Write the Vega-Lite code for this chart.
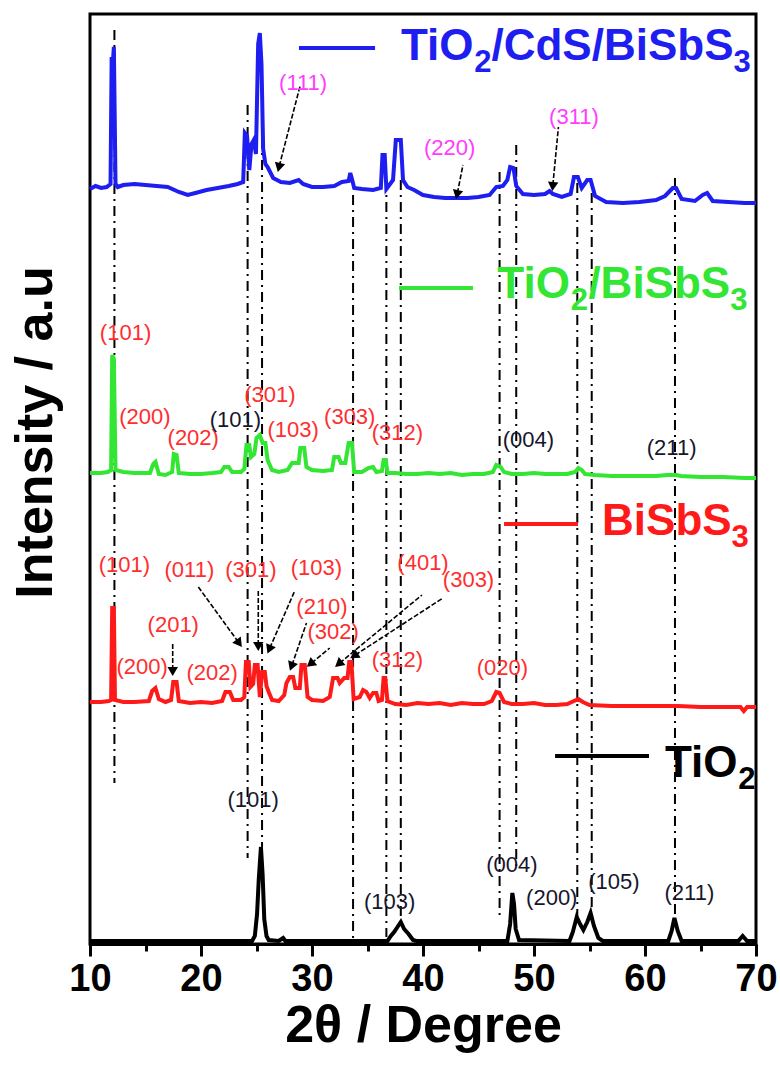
{
  "$schema": "https://vega.github.io/schema/vega-lite/v6.json",
  "width": 666,
  "height": 930,
  "autosize": {"type": "none"},
  "padding": {"left": 90, "top": 14, "right": 24, "bottom": 121},
  "background": "white",
  "config": {"view": {"stroke": "black", "strokeWidth": 3}, "font": "Liberation Sans"},
  "datasets": {
    "traces": [
      {"s":"TiO2/CdS/BiSbS3","x":10,"y":755},{"s":"TiO2/CdS/BiSbS3","x":10.5,"y":758},{"s":"TiO2/CdS/BiSbS3","x":11,"y":756},{"s":"TiO2/CdS/BiSbS3","x":11.5,"y":757},{"s":"TiO2/CdS/BiSbS3","x":11.85,"y":760},{"s":"TiO2/CdS/BiSbS3","x":11.95,"y":887},{"s":"TiO2/CdS/BiSbS3","x":12.05,"y":880},{"s":"TiO2/CdS/BiSbS3","x":12.15,"y":897},{"s":"TiO2/CdS/BiSbS3","x":12.3,"y":760},{"s":"TiO2/CdS/BiSbS3","x":12.5,"y":757},{"s":"TiO2/CdS/BiSbS3","x":13,"y":759},{"s":"TiO2/CdS/BiSbS3","x":14,"y":760},{"s":"TiO2/CdS/BiSbS3","x":15,"y":759},{"s":"TiO2/CdS/BiSbS3","x":16,"y":758},{"s":"TiO2/CdS/BiSbS3","x":17,"y":757},{"s":"TiO2/CdS/BiSbS3","x":18,"y":752},{"s":"TiO2/CdS/BiSbS3","x":18.8,"y":749},{"s":"TiO2/CdS/BiSbS3","x":19.5,"y":751},{"s":"TiO2/CdS/BiSbS3","x":20.5,"y":754},{"s":"TiO2/CdS/BiSbS3","x":21.5,"y":756},{"s":"TiO2/CdS/BiSbS3","x":22.5,"y":758},{"s":"TiO2/CdS/BiSbS3","x":23.3,"y":760},{"s":"TiO2/CdS/BiSbS3","x":23.8,"y":762},{"s":"TiO2/CdS/BiSbS3","x":23.95,"y":811},{"s":"TiO2/CdS/BiSbS3","x":24.15,"y":808},{"s":"TiO2/CdS/BiSbS3","x":24.35,"y":774},{"s":"TiO2/CdS/BiSbS3","x":24.55,"y":800},{"s":"TiO2/CdS/BiSbS3","x":24.75,"y":804},{"s":"TiO2/CdS/BiSbS3","x":24.95,"y":790},{"s":"TiO2/CdS/BiSbS3","x":25.15,"y":900},{"s":"TiO2/CdS/BiSbS3","x":25.3,"y":911},{"s":"TiO2/CdS/BiSbS3","x":25.45,"y":880},{"s":"TiO2/CdS/BiSbS3","x":25.6,"y":795},{"s":"TiO2/CdS/BiSbS3","x":25.8,"y":780},{"s":"TiO2/CdS/BiSbS3","x":26.0,"y":777},{"s":"TiO2/CdS/BiSbS3","x":26.5,"y":766},{"s":"TiO2/CdS/BiSbS3","x":27.2,"y":762},{"s":"TiO2/CdS/BiSbS3","x":28,"y":761},{"s":"TiO2/CdS/BiSbS3","x":28.8,"y":764},{"s":"TiO2/CdS/BiSbS3","x":29.2,"y":760},{"s":"TiO2/CdS/BiSbS3","x":30,"y":757},{"s":"TiO2/CdS/BiSbS3","x":31,"y":757},{"s":"TiO2/CdS/BiSbS3","x":32,"y":758},{"s":"TiO2/CdS/BiSbS3","x":32.7,"y":762},{"s":"TiO2/CdS/BiSbS3","x":33.3,"y":763},{"s":"TiO2/CdS/BiSbS3","x":33.45,"y":771},{"s":"TiO2/CdS/BiSbS3","x":33.6,"y":765},{"s":"TiO2/CdS/BiSbS3","x":33.8,"y":756},{"s":"TiO2/CdS/BiSbS3","x":34.5,"y":755},{"s":"TiO2/CdS/BiSbS3","x":35.5,"y":754},{"s":"TiO2/CdS/BiSbS3","x":36.2,"y":756},{"s":"TiO2/CdS/BiSbS3","x":36.35,"y":789},{"s":"TiO2/CdS/BiSbS3","x":36.55,"y":789},{"s":"TiO2/CdS/BiSbS3","x":36.7,"y":755},{"s":"TiO2/CdS/BiSbS3","x":37.3,"y":764},{"s":"TiO2/CdS/BiSbS3","x":37.55,"y":804},{"s":"TiO2/CdS/BiSbS3","x":38.0,"y":804},{"s":"TiO2/CdS/BiSbS3","x":38.2,"y":764},{"s":"TiO2/CdS/BiSbS3","x":38.6,"y":757},{"s":"TiO2/CdS/BiSbS3","x":39.2,"y":754},{"s":"TiO2/CdS/BiSbS3","x":40,"y":749},{"s":"TiO2/CdS/BiSbS3","x":41,"y":747},{"s":"TiO2/CdS/BiSbS3","x":42,"y":746},{"s":"TiO2/CdS/BiSbS3","x":43,"y":746},{"s":"TiO2/CdS/BiSbS3","x":44,"y":746},{"s":"TiO2/CdS/BiSbS3","x":45,"y":747},{"s":"TiO2/CdS/BiSbS3","x":46,"y":749},{"s":"TiO2/CdS/BiSbS3","x":46.6,"y":757},{"s":"TiO2/CdS/BiSbS3","x":47.2,"y":758},{"s":"TiO2/CdS/BiSbS3","x":47.6,"y":764},{"s":"TiO2/CdS/BiSbS3","x":47.85,"y":777},{"s":"TiO2/CdS/BiSbS3","x":48.15,"y":776},{"s":"TiO2/CdS/BiSbS3","x":48.4,"y":758},{"s":"TiO2/CdS/BiSbS3","x":49,"y":750},{"s":"TiO2/CdS/BiSbS3","x":50,"y":749},{"s":"TiO2/CdS/BiSbS3","x":51,"y":750},{"s":"TiO2/CdS/BiSbS3","x":51.4,"y":753},{"s":"TiO2/CdS/BiSbS3","x":51.7,"y":750},{"s":"TiO2/CdS/BiSbS3","x":52.5,"y":747},{"s":"TiO2/CdS/BiSbS3","x":53.3,"y":750},{"s":"TiO2/CdS/BiSbS3","x":53.6,"y":767},{"s":"TiO2/CdS/BiSbS3","x":53.95,"y":767},{"s":"TiO2/CdS/BiSbS3","x":54.3,"y":756},{"s":"TiO2/CdS/BiSbS3","x":54.8,"y":764},{"s":"TiO2/CdS/BiSbS3","x":55.1,"y":764},{"s":"TiO2/CdS/BiSbS3","x":55.5,"y":748},{"s":"TiO2/CdS/BiSbS3","x":56.5,"y":742},{"s":"TiO2/CdS/BiSbS3","x":58,"y":741},{"s":"TiO2/CdS/BiSbS3","x":59.5,"y":742},{"s":"TiO2/CdS/BiSbS3","x":61,"y":744},{"s":"TiO2/CdS/BiSbS3","x":61.8,"y":748},{"s":"TiO2/CdS/BiSbS3","x":62.5,"y":756},{"s":"TiO2/CdS/BiSbS3","x":62.8,"y":756},{"s":"TiO2/CdS/BiSbS3","x":63.3,"y":745},{"s":"TiO2/CdS/BiSbS3","x":64.5,"y":743},{"s":"TiO2/CdS/BiSbS3","x":65.2,"y":749},{"s":"TiO2/CdS/BiSbS3","x":65.6,"y":751},{"s":"TiO2/CdS/BiSbS3","x":66.1,"y":743},{"s":"TiO2/CdS/BiSbS3","x":67.5,"y":742},{"s":"TiO2/CdS/BiSbS3","x":69,"y":741},{"s":"TiO2/CdS/BiSbS3","x":70,"y":741},

      {"s":"TiO2/BiSbS3","x":10,"y":471},{"s":"TiO2/BiSbS3","x":11,"y":471},{"s":"TiO2/BiSbS3","x":11.6,"y":472},{"s":"TiO2/BiSbS3","x":11.9,"y":474},{"s":"TiO2/BiSbS3","x":12.0,"y":589},{"s":"TiO2/BiSbS3","x":12.15,"y":585},{"s":"TiO2/BiSbS3","x":12.3,"y":474},{"s":"TiO2/BiSbS3","x":13,"y":472},{"s":"TiO2/BiSbS3","x":14,"y":471},{"s":"TiO2/BiSbS3","x":15.4,"y":471},{"s":"TiO2/BiSbS3","x":15.7,"y":480},{"s":"TiO2/BiSbS3","x":15.9,"y":482},{"s":"TiO2/BiSbS3","x":16.2,"y":470},{"s":"TiO2/BiSbS3","x":16.8,"y":469},{"s":"TiO2/BiSbS3","x":17.4,"y":472},{"s":"TiO2/BiSbS3","x":17.55,"y":490},{"s":"TiO2/BiSbS3","x":17.8,"y":489},{"s":"TiO2/BiSbS3","x":18,"y":471},{"s":"TiO2/BiSbS3","x":19,"y":470},{"s":"TiO2/BiSbS3","x":20,"y":470},{"s":"TiO2/BiSbS3","x":21,"y":471},{"s":"TiO2/BiSbS3","x":21.8,"y":472},{"s":"TiO2/BiSbS3","x":22.1,"y":477},{"s":"TiO2/BiSbS3","x":22.5,"y":477},{"s":"TiO2/BiSbS3","x":22.8,"y":472},{"s":"TiO2/BiSbS3","x":23.6,"y":472},{"s":"TiO2/BiSbS3","x":23.9,"y":475},{"s":"TiO2/BiSbS3","x":24.1,"y":499},{"s":"TiO2/BiSbS3","x":24.35,"y":499},{"s":"TiO2/BiSbS3","x":24.5,"y":487},{"s":"TiO2/BiSbS3","x":24.8,"y":490},{"s":"TiO2/BiSbS3","x":25.0,"y":506},{"s":"TiO2/BiSbS3","x":25.3,"y":509},{"s":"TiO2/BiSbS3","x":25.55,"y":501},{"s":"TiO2/BiSbS3","x":25.8,"y":501},{"s":"TiO2/BiSbS3","x":26.0,"y":484},{"s":"TiO2/BiSbS3","x":26.4,"y":474},{"s":"TiO2/BiSbS3","x":27,"y":472},{"s":"TiO2/BiSbS3","x":27.8,"y":474},{"s":"TiO2/BiSbS3","x":28.2,"y":481},{"s":"TiO2/BiSbS3","x":28.8,"y":481},{"s":"TiO2/BiSbS3","x":28.95,"y":496},{"s":"TiO2/BiSbS3","x":29.3,"y":496},{"s":"TiO2/BiSbS3","x":29.5,"y":477},{"s":"TiO2/BiSbS3","x":30,"y":474},{"s":"TiO2/BiSbS3","x":31,"y":473},{"s":"TiO2/BiSbS3","x":31.8,"y":474},{"s":"TiO2/BiSbS3","x":32.0,"y":487},{"s":"TiO2/BiSbS3","x":32.4,"y":487},{"s":"TiO2/BiSbS3","x":32.6,"y":481},{"s":"TiO2/BiSbS3","x":33.0,"y":481},{"s":"TiO2/BiSbS3","x":33.3,"y":501},{"s":"TiO2/BiSbS3","x":33.6,"y":501},{"s":"TiO2/BiSbS3","x":33.8,"y":472},{"s":"TiO2/BiSbS3","x":34.5,"y":472},{"s":"TiO2/BiSbS3","x":35.1,"y":476},{"s":"TiO2/BiSbS3","x":35.5,"y":477},{"s":"TiO2/BiSbS3","x":35.8,"y":472},{"s":"TiO2/BiSbS3","x":36.3,"y":473},{"s":"TiO2/BiSbS3","x":36.45,"y":484},{"s":"TiO2/BiSbS3","x":36.65,"y":484},{"s":"TiO2/BiSbS3","x":36.8,"y":471},{"s":"TiO2/BiSbS3","x":37.5,"y":471},{"s":"TiO2/BiSbS3","x":38.5,"y":470},{"s":"TiO2/BiSbS3","x":39.5,"y":470},{"s":"TiO2/BiSbS3","x":40.5,"y":471},{"s":"TiO2/BiSbS3","x":41.5,"y":470},{"s":"TiO2/BiSbS3","x":42.5,"y":471},{"s":"TiO2/BiSbS3","x":43.5,"y":469},{"s":"TiO2/BiSbS3","x":44.5,"y":470},{"s":"TiO2/BiSbS3","x":45.5,"y":470},{"s":"TiO2/BiSbS3","x":46.3,"y":472},{"s":"TiO2/BiSbS3","x":46.6,"y":479},{"s":"TiO2/BiSbS3","x":47.0,"y":477},{"s":"TiO2/BiSbS3","x":47.3,"y":472},{"s":"TiO2/BiSbS3","x":48,"y":470},{"s":"TiO2/BiSbS3","x":49,"y":470},{"s":"TiO2/BiSbS3","x":50,"y":471},{"s":"TiO2/BiSbS3","x":51,"y":470},{"s":"TiO2/BiSbS3","x":52,"y":470},{"s":"TiO2/BiSbS3","x":53,"y":470},{"s":"TiO2/BiSbS3","x":53.7,"y":472},{"s":"TiO2/BiSbS3","x":54.0,"y":476},{"s":"TiO2/BiSbS3","x":54.3,"y":474},{"s":"TiO2/BiSbS3","x":54.6,"y":470},{"s":"TiO2/BiSbS3","x":55.5,"y":469},{"s":"TiO2/BiSbS3","x":57,"y":468},{"s":"TiO2/BiSbS3","x":59,"y":468},{"s":"TiO2/BiSbS3","x":61,"y":468},{"s":"TiO2/BiSbS3","x":62,"y":469},{"s":"TiO2/BiSbS3","x":62.8,"y":469},{"s":"TiO2/BiSbS3","x":63.2,"y":468},{"s":"TiO2/BiSbS3","x":65,"y":467},{"s":"TiO2/BiSbS3","x":67,"y":467},{"s":"TiO2/BiSbS3","x":69,"y":466},{"s":"TiO2/BiSbS3","x":70,"y":466},

      {"s":"BiSbS3","x":10,"y":242},{"s":"BiSbS3","x":11,"y":242},{"s":"BiSbS3","x":11.7,"y":243},{"s":"BiSbS3","x":11.9,"y":244},{"s":"BiSbS3","x":12.0,"y":336},{"s":"BiSbS3","x":12.15,"y":336},{"s":"BiSbS3","x":12.25,"y":244},{"s":"BiSbS3","x":13,"y":242},{"s":"BiSbS3","x":14,"y":242},{"s":"BiSbS3","x":15.3,"y":243},{"s":"BiSbS3","x":15.6,"y":253},{"s":"BiSbS3","x":15.9,"y":256},{"s":"BiSbS3","x":16.2,"y":245},{"s":"BiSbS3","x":16.8,"y":242},{"s":"BiSbS3","x":17.3,"y":244},{"s":"BiSbS3","x":17.5,"y":262},{"s":"BiSbS3","x":17.8,"y":262},{"s":"BiSbS3","x":18,"y":243},{"s":"BiSbS3","x":19,"y":241},{"s":"BiSbS3","x":20,"y":242},{"s":"BiSbS3","x":21,"y":241},{"s":"BiSbS3","x":21.9,"y":243},{"s":"BiSbS3","x":22.2,"y":252},{"s":"BiSbS3","x":22.6,"y":252},{"s":"BiSbS3","x":22.9,"y":244},{"s":"BiSbS3","x":23.6,"y":244},{"s":"BiSbS3","x":23.9,"y":247},{"s":"BiSbS3","x":24.05,"y":282},{"s":"BiSbS3","x":24.3,"y":282},{"s":"BiSbS3","x":24.45,"y":257},{"s":"BiSbS3","x":24.7,"y":260},{"s":"BiSbS3","x":24.85,"y":279},{"s":"BiSbS3","x":25.1,"y":279},{"s":"BiSbS3","x":25.3,"y":247},{"s":"BiSbS3","x":25.5,"y":272},{"s":"BiSbS3","x":25.75,"y":272},{"s":"BiSbS3","x":25.9,"y":258},{"s":"BiSbS3","x":26.1,"y":252},{"s":"BiSbS3","x":26.4,"y":244},{"s":"BiSbS3","x":27,"y":243},{"s":"BiSbS3","x":27.5,"y":249},{"s":"BiSbS3","x":27.7,"y":261},{"s":"BiSbS3","x":28.0,"y":267},{"s":"BiSbS3","x":28.3,"y":267},{"s":"BiSbS3","x":28.5,"y":256},{"s":"BiSbS3","x":28.9,"y":256},{"s":"BiSbS3","x":29.05,"y":279},{"s":"BiSbS3","x":29.35,"y":279},{"s":"BiSbS3","x":29.6,"y":247},{"s":"BiSbS3","x":30,"y":244},{"s":"BiSbS3","x":31,"y":243},{"s":"BiSbS3","x":31.6,"y":247},{"s":"BiSbS3","x":31.9,"y":266},{"s":"BiSbS3","x":32.3,"y":266},{"s":"BiSbS3","x":32.5,"y":261},{"s":"BiSbS3","x":32.9,"y":266},{"s":"BiSbS3","x":33.2,"y":266},{"s":"BiSbS3","x":33.35,"y":282},{"s":"BiSbS3","x":33.55,"y":282},{"s":"BiSbS3","x":33.75,"y":245},{"s":"BiSbS3","x":34.3,"y":247},{"s":"BiSbS3","x":34.6,"y":254},{"s":"BiSbS3","x":34.9,"y":252},{"s":"BiSbS3","x":35.2,"y":246},{"s":"BiSbS3","x":35.5,"y":251},{"s":"BiSbS3","x":35.8,"y":251},{"s":"BiSbS3","x":36.0,"y":243},{"s":"BiSbS3","x":36.3,"y":244},{"s":"BiSbS3","x":36.45,"y":266},{"s":"BiSbS3","x":36.6,"y":266},{"s":"BiSbS3","x":36.8,"y":243},{"s":"BiSbS3","x":37.5,"y":240},{"s":"BiSbS3","x":38.5,"y":239},{"s":"BiSbS3","x":39.5,"y":241},{"s":"BiSbS3","x":40.5,"y":240},{"s":"BiSbS3","x":41.5,"y":241},{"s":"BiSbS3","x":42.5,"y":239},{"s":"BiSbS3","x":43.5,"y":241},{"s":"BiSbS3","x":44.5,"y":240},{"s":"BiSbS3","x":45.5,"y":240},{"s":"BiSbS3","x":46.2,"y":243},{"s":"BiSbS3","x":46.6,"y":252},{"s":"BiSbS3","x":46.9,"y":251},{"s":"BiSbS3","x":47.3,"y":242},{"s":"BiSbS3","x":48,"y":240},{"s":"BiSbS3","x":49,"y":240},{"s":"BiSbS3","x":50,"y":241},{"s":"BiSbS3","x":51,"y":239},{"s":"BiSbS3","x":52,"y":239},{"s":"BiSbS3","x":53,"y":240},{"s":"BiSbS3","x":53.6,"y":243},{"s":"BiSbS3","x":54.0,"y":245},{"s":"BiSbS3","x":54.4,"y":242},{"s":"BiSbS3","x":55,"y":239},{"s":"BiSbS3","x":57,"y":238},{"s":"BiSbS3","x":59,"y":238},{"s":"BiSbS3","x":61,"y":238},{"s":"BiSbS3","x":63,"y":238},{"s":"BiSbS3","x":65,"y":237},{"s":"BiSbS3","x":67,"y":237},{"s":"BiSbS3","x":68.6,"y":237},{"s":"BiSbS3","x":68.9,"y":233},{"s":"BiSbS3","x":69.2,"y":237},{"s":"BiSbS3","x":70,"y":237},

      {"s":"TiO2","x":10,"y":3},{"s":"TiO2","x":24.6,"y":3},{"s":"TiO2","x":24.85,"y":8},{"s":"TiO2","x":25.05,"y":30},{"s":"TiO2","x":25.2,"y":64},{"s":"TiO2","x":25.4,"y":97},{"s":"TiO2","x":25.55,"y":70},{"s":"TiO2","x":25.7,"y":25},{"s":"TiO2","x":25.9,"y":8},{"s":"TiO2","x":26.1,"y":4},{"s":"TiO2","x":27.0,"y":3},{"s":"TiO2","x":27.4,"y":6},{"s":"TiO2","x":27.6,"y":3},{"s":"TiO2","x":36.8,"y":3},{"s":"TiO2","x":37.1,"y":8},{"s":"TiO2","x":37.4,"y":12},{"s":"TiO2","x":37.7,"y":17},{"s":"TiO2","x":38.0,"y":22},{"s":"TiO2","x":38.3,"y":15},{"s":"TiO2","x":38.7,"y":10},{"s":"TiO2","x":39.1,"y":4},{"s":"TiO2","x":39.4,"y":3},{"s":"TiO2","x":47.6,"y":3},{"s":"TiO2","x":47.85,"y":20},{"s":"TiO2","x":48.05,"y":51},{"s":"TiO2","x":48.2,"y":40},{"s":"TiO2","x":48.35,"y":15},{"s":"TiO2","x":48.65,"y":4},{"s":"TiO2","x":53.2,"y":3},{"s":"TiO2","x":53.5,"y":12},{"s":"TiO2","x":53.85,"y":27},{"s":"TiO2","x":54.15,"y":20},{"s":"TiO2","x":54.45,"y":14},{"s":"TiO2","x":54.8,"y":22},{"s":"TiO2","x":55.1,"y":31},{"s":"TiO2","x":55.4,"y":18},{"s":"TiO2","x":55.8,"y":6},{"s":"TiO2","x":56.2,"y":3},{"s":"TiO2","x":62.1,"y":3},{"s":"TiO2","x":62.4,"y":13},{"s":"TiO2","x":62.65,"y":26},{"s":"TiO2","x":62.95,"y":13},{"s":"TiO2","x":63.3,"y":3},{"s":"TiO2","x":68.4,"y":3},{"s":"TiO2","x":68.8,"y":8},{"s":"TiO2","x":69.2,"y":3},{"s":"TiO2","x":70,"y":3}
    ],
    "refs": [
      {"x":12.2,"y":914,"ye":161},{"x":24.2,"y":839,"ye":86},{"x":25.5,"y":806,"ye":97},{"x":33.7,"y":749,"ye":1},{"x":36.7,"y":764,"ye":7},{"x":38.0,"y":764,"ye":27},{"x":46.9,"y":772,"ye":24},{"x":48.4,"y":799,"ye":74},{"x":53.9,"y":761,"ye":27},{"x":55.2,"y":751,"ye":34},{"x":62.7,"y":766,"ye":27}
    ],
    "keyLines": [
      {"s":"TiO2/CdS/BiSbS3","x":28.83,"xe":35.68,"y":896},
      {"s":"TiO2/BiSbS3","x":37.84,"xe":44.5,"y":656},
      {"s":"BiSbS3","x":47.3,"xe":53.96,"y":420},
      {"s":"TiO2","x":51.9,"xe":60.36,"y":188}
    ],
    "keyTexts": [
      {"s":"TiO2/CdS/BiSbS3","label":"TiO","x":38.02,"y":884},
      {"s":"TiO2/CdS/BiSbS3","label":"/CdS/BiSbS","x":46.17,"y":884},
      {"s":"TiO2/BiSbS3","label":"TiO","x":46.7,"y":646},
      {"s":"TiO2/BiSbS3","label":"/BiSbS","x":54.9,"y":646},
      {"s":"BiSbS3","label":"BiSbS","x":56.13,"y":409},
      {"s":"TiO2","label":"TiO","x":61.8,"y":167}
    ],
    "keySubs": [
      {"s":"TiO2/CdS/BiSbS3","label":"2","x":44.62,"y":872},
      {"s":"TiO2/CdS/BiSbS3","label":"3","x":67.98,"y":872},
      {"s":"TiO2/BiSbS3","label":"2","x":53.3,"y":634},
      {"s":"TiO2/BiSbS3","label":"3","x":67.68,"y":634},
      {"s":"BiSbS3","label":"3","x":67.8,"y":397},
      {"s":"TiO2","label":"2","x":68.41,"y":155}
    ],
    "peaks": [
      {"hkl":"(111)","phase":"CdS","x":29.2,"y":861},
      {"hkl":"(220)","phase":"CdS","x":42.4,"y":796},
      {"hkl":"(311)","phase":"CdS","x":53.6,"y":827},
      {"hkl":"(101)","phase":"BiSbS3","x":13.2,"y":611},
      {"hkl":"(200)","phase":"BiSbS3","x":14.95,"y":527},
      {"hkl":"(202)","phase":"BiSbS3","x":19.3,"y":506},
      {"hkl":"(101)","phase":"TiO2","x":23.1,"y":524},
      {"hkl":"(301)","phase":"BiSbS3","x":26.2,"y":549},
      {"hkl":"(103)","phase":"BiSbS3","x":28.3,"y":514},
      {"hkl":"(303)","phase":"BiSbS3","x":33.4,"y":527},
      {"hkl":"(312)","phase":"BiSbS3","x":37.7,"y":511},
      {"hkl":"(004)","phase":"TiO2","x":49.5,"y":504},
      {"hkl":"(211)","phase":"TiO2","x":62.4,"y":496},
      {"hkl":"(101)","phase":"BiSbS3","x":13.1,"y":379},
      {"hkl":"(011)","phase":"BiSbS3","x":18.95,"y":374},
      {"hkl":"(301)","phase":"BiSbS3","x":24.5,"y":374},
      {"hkl":"(103)","phase":"BiSbS3","x":30.4,"y":376},
      {"hkl":"(210)","phase":"BiSbS3","x":30.9,"y":337},
      {"hkl":"(201)","phase":"BiSbS3","x":17.5,"y":319},
      {"hkl":"(200)","phase":"BiSbS3","x":14.7,"y":277},
      {"hkl":"(202)","phase":"BiSbS3","x":21.0,"y":271},
      {"hkl":"(302)","phase":"BiSbS3","x":31.9,"y":312},
      {"hkl":"(401)","phase":"BiSbS3","x":40.0,"y":381},
      {"hkl":"(303)","phase":"BiSbS3","x":44.1,"y":364},
      {"hkl":"(312)","phase":"BiSbS3","x":37.7,"y":284},
      {"hkl":"(020)","phase":"BiSbS3","x":47.15,"y":276},
      {"hkl":"(101)","phase":"TiO2","x":24.7,"y":144},
      {"hkl":"(103)","phase":"TiO2","x":37.0,"y":42},
      {"hkl":"(004)","phase":"TiO2","x":48.0,"y":79},
      {"hkl":"(200)","phase":"TiO2","x":51.6,"y":46},
      {"hkl":"(105)","phase":"TiO2","x":57.2,"y":62},
      {"hkl":"(211)","phase":"TiO2","x":64.0,"y":51}
    ],
    "arrows": [
      {"hkl":"(111)","x":27.05,"y":778,"xe":28.95,"ye":859,"ang":194},
      {"hkl":"(220)","x":43.1,"y":751,"xe":43.6,"ye":779,"ang":192},
      {"hkl":"(311)","x":51.7,"y":759,"xe":52.2,"ye":817,"ang":185},
      {"hkl":"(201)","x":17.45,"y":274,"xe":17.45,"ye":302,"ang":180},
      {"hkl":"(011)","x":23.36,"y":302,"xe":19.76,"ye":357,"ang":144},
      {"hkl":"(301)","x":25.16,"y":299,"xe":25.16,"ye":354,"ang":180},
      {"hkl":"(103)","x":26.2,"y":296,"xe":28.4,"ye":352,"ang":203},
      {"hkl":"(210)","x":28.2,"y":279,"xe":29.5,"ye":321,"ang":200},
      {"hkl":"(302)","x":29.96,"y":281,"xe":31.6,"ye":296,"ang":231},
      {"hkl":"(401)","x":32.5,"y":281,"xe":39.9,"ye":349,"ang":230},
      {"hkl":"(303)","x":33.9,"y":289,"xe":41.8,"ye":346,"ang":237}
    ]
  },
  "encoding": {
    "x": {
      "field": "x", "type": "quantitative",
      "scale": {"domain": [10, 70], "nice": false, "zero": false},
      "axis": {
        "title": "2θ / Degree",
        "values": [10, 15, 20, 25, 30, 35, 40, 45, 50, 55, 60, 65, 70],
        "labelExpr": "datum.value % 10 === 0 ? datum.label : ''",
        "format": "d",
        "tickSize": {"condition": {"test": "datum.value % 10 === 0", "value": 12}, "value": 7},
        "tickWidth": 3, "tickColor": "black",
        "domainColor": "black", "domainWidth": 3,
        "grid": false,
        "labelFont": "Liberation Sans", "labelFontSize": 38, "labelFontWeight": "bold", "labelColor": "black",
        "labelPadding": 4, "labelFlush": false, "labelOverlap": false,
        "titleFont": "Liberation Sans", "titleFontSize": 52, "titleFontWeight": "bold", "titleColor": "black",
        "titlePadding": 2
      }
    },
    "y": {
      "field": "y", "type": "quantitative",
      "scale": {"domain": [0, 930], "nice": false, "zero": false},
      "axis": {
        "title": "Intensity / a.u",
        "labels": false, "ticks": false, "domain": false, "grid": false,
        "titleFont": "Liberation Sans", "titleFontSize": 52, "titleFontWeight": "bold", "titleColor": "black",
        "titleAngle": -90, "titleX": -55, "titleY": 418, "titleAlign": "center", "titleBaseline": "middle"
      }
    }
  },
  "layer": [
    {
      "data": {"name": "refs"},
      "mark": {"type": "rule", "color": "black", "strokeWidth": 2, "strokeDash": [10, 5, 2, 5]},
      "encoding": {"y2": {"field": "ye"}}
    },
    {
      "data": {"name": "traces"},
      "mark": {"type": "line", "strokeWidth": 4, "strokeJoin": "miter", "interpolate": "linear"},
      "encoding": {
        "color": {"field": "s", "type": "nominal", "legend": null,
          "scale": {"domain": ["TiO2/CdS/BiSbS3", "TiO2/BiSbS3", "BiSbS3", "TiO2"], "range": ["#1e1ef0", "#33e633", "#ff1a1a", "#000000"]}},
        "detail": {"field": "s"}
      }
    },
    {
      "data": {"name": "keyLines"},
      "mark": {"type": "rule", "strokeWidth": 4},
      "encoding": {
        "x2": {"field": "xe"},
        "color": {"field": "s", "type": "nominal", "legend": null,
          "scale": {"domain": ["TiO2/CdS/BiSbS3", "TiO2/BiSbS3", "BiSbS3", "TiO2"], "range": ["#1e1ef0", "#33e633", "#ff1a1a", "#000000"]}}
      }
    },
    {
      "data": {"name": "keyTexts"},
      "mark": {"type": "text", "align": "left", "baseline": "alphabetic", "font": "Liberation Sans", "fontSize": 44, "fontWeight": "bold"},
      "encoding": {
        "text": {"field": "label"},
        "color": {"field": "s", "type": "nominal", "legend": null,
          "scale": {"domain": ["TiO2/CdS/BiSbS3", "TiO2/BiSbS3", "BiSbS3", "TiO2"], "range": ["#1e1ef0", "#33e633", "#ff1a1a", "#000000"]}}
      }
    },
    {
      "data": {"name": "keySubs"},
      "mark": {"type": "text", "align": "left", "baseline": "alphabetic", "font": "Liberation Sans", "fontSize": 31, "fontWeight": "bold"},
      "encoding": {
        "text": {"field": "label"},
        "color": {"field": "s", "type": "nominal", "legend": null,
          "scale": {"domain": ["TiO2/CdS/BiSbS3", "TiO2/BiSbS3", "BiSbS3", "TiO2"], "range": ["#1e1ef0", "#33e633", "#ff1a1a", "#000000"]}}
      }
    },
    {
      "data": {"name": "arrows"},
      "mark": {"type": "rule", "color": "black", "strokeWidth": 1.6, "strokeDash": [5, 2]},
      "encoding": {"x2": {"field": "xe"}, "y2": {"field": "ye"}}
    },
    {
      "data": {"name": "arrows"},
      "mark": {"type": "point", "shape": "triangle", "filled": true, "color": "black", "opacity": 1, "size": 110},
      "encoding": {"angle": {"field": "ang", "type": "quantitative", "scale": null}}
    },
    {
      "data": {"name": "peaks"},
      "mark": {"type": "text", "align": "center", "baseline": "middle", "font": "Liberation Sans", "fontSize": 22},
      "encoding": {
        "text": {"field": "hkl"},
        "color": {"field": "phase", "type": "nominal", "legend": null,
          "scale": {"domain": ["BiSbS3", "TiO2", "CdS"], "range": ["#ff2e2e", "#16162c", "#ff3cff"]}}
      }
    }
  ],
  "resolve": {"scale": {"color": "independent"}}
}
